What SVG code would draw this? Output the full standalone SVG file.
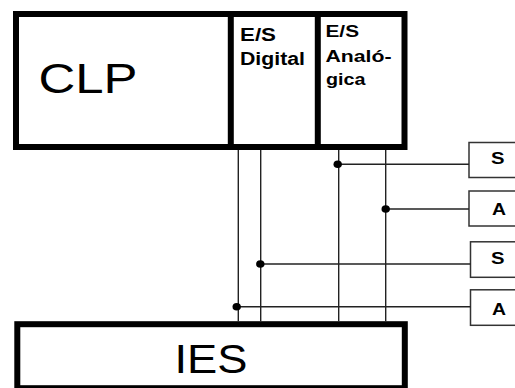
<svg xmlns="http://www.w3.org/2000/svg" width="515" height="388" viewBox="0 0 515 388">
<style>
.thick{fill:#fff;stroke:#000;stroke-width:6}
.div{stroke:#000;stroke-width:6}
.wire{stroke:#222;stroke-width:1.4;fill:none}
.box{fill:#fff;stroke:#333;stroke-width:1.5}
.big{font-family:"Liberation Sans",Arial,sans-serif;fill:#000}
.lbl{font-family:"Liberation Sans",Arial,sans-serif;font-weight:bold;fill:#000}
.dot{fill:#000}
</style>
<rect width="515" height="388" fill="#fff"/>
<g id="clp">
<rect class="thick" x="16" y="14" width="388.5" height="133"/>
<line class="div" x1="230.8" y1="14" x2="230.8" y2="147"/>
<line class="div" x1="317.8" y1="14" x2="317.8" y2="147"/>
<text class="big" x="38.5" y="93.3" font-size="42" textLength="99" lengthAdjust="spacingAndGlyphs">CLP</text>
</g>
<g id="es-digital">
<text class="lbl" x="240" y="40.7" font-size="18" textLength="36" lengthAdjust="spacingAndGlyphs">E/S</text>
<text class="lbl" x="240" y="65" font-size="18" textLength="65" lengthAdjust="spacingAndGlyphs">Digital</text>
</g>
<g id="es-analogica">
<text class="lbl" x="325.5" y="36.7" font-size="17" textLength="33.5" lengthAdjust="spacingAndGlyphs">E/S</text>
<text class="lbl" x="325.5" y="61.7" font-size="17" textLength="66" lengthAdjust="spacingAndGlyphs">Analó-</text>
<text class="lbl" x="326" y="85" font-size="17" textLength="39.5" lengthAdjust="spacingAndGlyphs">gica</text>
</g>
<g id="ies">
<rect class="thick" x="17.3" y="324.2" width="387.5" height="64"/>
<text class="big" x="174.5" y="372.7" font-size="41" textLength="73" lengthAdjust="spacingAndGlyphs">IES</text>
</g>
<g id="s1">
<rect class="box" x="469" y="142.5" width="60" height="35"/>
<text class="lbl" x="491" y="164.3" font-size="17" textLength="13.5" lengthAdjust="spacingAndGlyphs">S</text>
</g>
<g id="a1">
<rect class="box" x="469" y="191" width="60" height="35"/>
<text class="lbl" x="492" y="215" font-size="17" textLength="14" lengthAdjust="spacingAndGlyphs">A</text>
</g>
<g id="s2">
<rect class="box" x="470.5" y="241.8" width="60" height="35.5"/>
<text class="lbl" x="491" y="264.3" font-size="17" textLength="13.5" lengthAdjust="spacingAndGlyphs">S</text>
</g>
<g id="a2">
<rect class="box" x="470.5" y="289.8" width="60" height="35.5"/>
<text class="lbl" x="492" y="315" font-size="17" textLength="14" lengthAdjust="spacingAndGlyphs">A</text>
</g>
<g id="connectors">
<line class="wire" x1="238.3" y1="150" x2="238.3" y2="321.5"/>
<line class="wire" x1="260.7" y1="150" x2="260.7" y2="321.5"/>
<line class="wire" x1="338.7" y1="150" x2="338.7" y2="321.5"/>
<line class="wire" x1="385.7" y1="150" x2="385.7" y2="321.5"/>
<line class="wire" x1="337.7" y1="164.3" x2="469" y2="164.3"/>
<line class="wire" x1="385.7" y1="209" x2="469" y2="209"/>
<line class="wire" x1="260.3" y1="264" x2="470.5" y2="264"/>
<line class="wire" x1="236.7" y1="306.7" x2="470.5" y2="306.7"/>
<ellipse class="dot" cx="337.7" cy="164.3" rx="4.2" ry="3.8"/>
<ellipse class="dot" cx="385.7" cy="209" rx="4.2" ry="3.8"/>
<ellipse class="dot" cx="260.3" cy="264" rx="4.2" ry="3.8"/>
<ellipse class="dot" cx="236.7" cy="306.7" rx="4.2" ry="3.8"/>
</g>
</svg>
